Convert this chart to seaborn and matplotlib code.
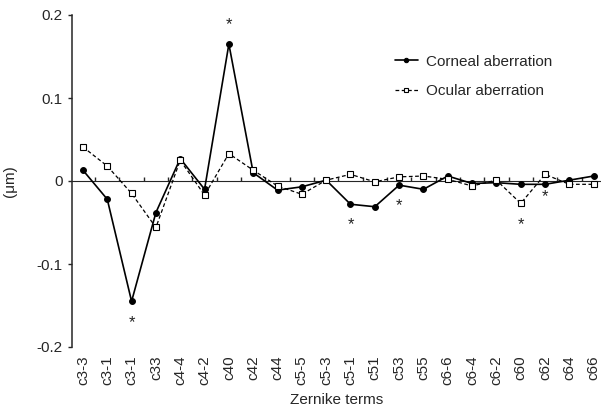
import numpy as np
import pandas as pd
import matplotlib
matplotlib.use("Agg")
import matplotlib.pyplot as plt
import seaborn as sns

# Zernike terms (c3-1 appears twice in the original figure)
terms = ["c3-3", "c3-1", "c3-1", "c33", "c4-4", "c4-2", "c40", "c42", "c44",
         "c5-5", "c5-3", "c5-1", "c51", "c53", "c55", "c6-6", "c6-4", "c6-2",
         "c60", "c62", "c64", "c66"]
corneal = [0.013, -0.022, -0.145, -0.038, 0.027, -0.010, 0.165, 0.010, -0.011,
           -0.007, 0.001, -0.028, -0.031, -0.005, -0.010, 0.006, -0.003, -0.002,
           -0.004, -0.004, 0.001, 0.006]
ocular = [0.041, 0.018, -0.015, -0.056, 0.025, -0.017, 0.033, 0.013, -0.006,
          -0.016, 0.001, 0.008, -0.001, 0.005, 0.006, 0.002, -0.006, 0.001,
          -0.027, 0.008, -0.004, -0.004]
# asterisks: (term index, series, above/below)
stars = [(2, "corneal", -1), (6, "corneal", 1), (11, "corneal", -1),
         (13, "corneal", -1), (18, "ocular", -1), (19, "corneal", -1)]

sns.set_style("ticks")
plt.rcParams["font.family"] = ["Liberation Sans", "DejaVu Sans"]
plt.rcParams["axes.unicode_minus"] = False

df = pd.DataFrame({"idx": np.arange(len(terms)), "corneal": corneal, "ocular": ocular})

fig = plt.figure(figsize=(6.01, 4.11), dpi=100)
ax = fig.add_axes([72 / 601, 64 / 411, 529 / 601, 332 / 411])

sns.lineplot(data=df, x="idx", y="corneal", ax=ax, color="black", lw=1.2,
             marker="o", markersize=4.2, markeredgecolor="black",
             markerfacecolor="black", label="Corneal aberration")
sns.lineplot(data=df, x="idx", y="ocular", ax=ax, color="black", lw=0.9,
             linestyle=(0, (3, 2)), marker="s", markersize=4.6,
             markeredgecolor="black", markerfacecolor="white", markeredgewidth=0.8,
             label="Ocular aberration")

for i, series, d in stars:
    val = corneal[i] if series == "corneal" else ocular[i]
    off = 14 if d > 0 else -15
    if i == 19:
        off = -9
    ax.annotate("*", (i, val), xytext=(0, off), textcoords="offset points",
                ha="center", va="center", fontsize=12, color="#222222")

ax.set_xlim(-0.45, 21.3)
ax.set_ylim(-0.2, 0.2)
ax.set_yticks([0.2, 0.1, 0, -0.1, -0.2])
ax.set_yticklabels(["0.2", "0.1", "0", "-0.1", "-0.2"], fontsize=11)
ax.set_xticks(df["idx"])
ax.set_xticklabels(terms, rotation=90, fontsize=11)
ax.tick_params(axis="x", length=0, pad=6)
ax.tick_params(axis="y", length=3, width=1, direction="out")
ax.set_xlabel("Zernike terms", fontsize=11, labelpad=6)
ax.set_ylabel("(\u03bcm)", fontsize=11, labelpad=14)
ax.spines["top"].set_visible(False)
ax.spines["right"].set_visible(False)
ax.spines["bottom"].set_visible(False)
ax.spines["left"].set_linewidth(1.1)

# zero line with small ticks between terms
sec = ax.secondary_xaxis(0.5)
sec.set_xticks(np.arange(len(terms)) + 0.5)
sec.set_xticklabels([])
sec.tick_params(length=3, width=1, direction="out")
sec.spines["bottom"].set_linewidth(1.1)

ax.legend(loc="upper left", bbox_to_anchor=((395 - 72) / 529, 0.88), frameon=False,
          fontsize=11, handlelength=1.5, handletextpad=0.5, labelspacing=1.0,
          markerscale=0.75, borderpad=0, borderaxespad=0)

fig.savefig("out.png", dpi=100)
